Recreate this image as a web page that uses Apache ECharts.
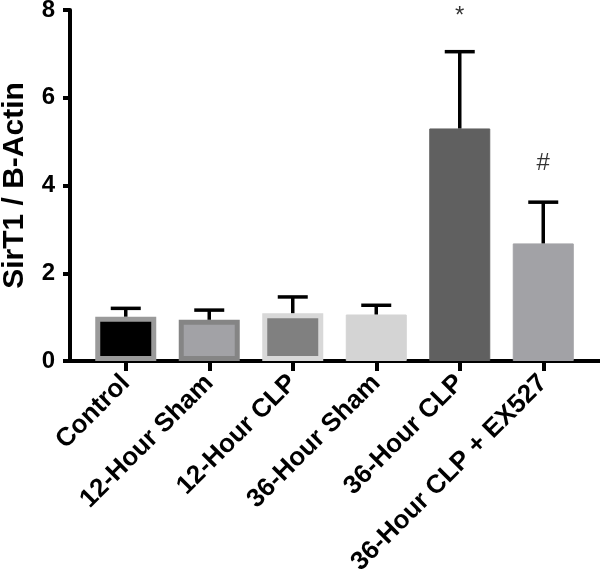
<!DOCTYPE html>
<html>
<head>
<meta charset="utf-8">
<script src="https://cdn.jsdelivr.net/npm/echarts@6/dist/echarts.min.js"></script>
<style>html,body{margin:0;padding:0;background:#fff}#c{width:600px;height:586px}</style>
</head>
<body>
<div id="c"></div>
<script>
var categories = ['Control', '12-Hour Sham', '12-Hour CLP', '36-Hour Sham', '36-Hour CLP', '36-Hour CLP + EX527'];
var means = [1.01, 0.94, 1.09, 1.06, 5.30, 2.68];
var errorTops = [1.20, 1.16, 1.46, 1.27, 7.05, 3.62];
var yTicks = [0, 2, 4, 6, 8];
var annotationCats = [4, 5];
var annotationY = [7.86, 4.5];
var annotationText = ['*', '#'];

var fills = ['#000000', '#a2a2a6', '#808080', '#d4d4d4', '#606060', '#a2a2a6'];
var borders = ['#9a9a9a', '#858585', '#d8d8d8', '#d4d4d4', '#606060', '#a2a2a6'];
var borderW = [5, 5, 5, 1, 1, 1];

var FONT = 'Liberation Sans, Arial, sans-serif';
var chart = echarts.init(document.getElementById('c'));

chart.setOption({
  animation: false,
  grid: [
    {left: 84, right: 15, top: 10, bottom: 225, containLabel: false, outerBoundsMode: 'none'},
    {left: 70, right: 0, top: 10, bottom: 225, containLabel: false, outerBoundsMode: 'none'}
  ],
  xAxis: [
    {
      type: 'category', gridIndex: 0, data: categories,
      axisLine: {show: false},
      axisTick: {show: true, alignWithLabel: true, length: 10, interval: 0, lineStyle: {color: '#000', width: 4}},
      axisLabel: {interval: 0, rotate: 45, margin: 18, color: '#000', fontFamily: FONT, fontWeight: 'bold', fontSize: 26}
    },
    {
      type: 'value', gridIndex: 1, min: 0, max: 1,
      axisLine: {show: true, lineStyle: {color: '#000', width: 4}},
      axisTick: {show: false}, axisLabel: {show: false}, splitLine: {show: false}
    }
  ],
  yAxis: [
    {
      type: 'value', gridIndex: 0, min: yTicks[0], max: yTicks[yTicks.length - 1], interval: 2, offset: 14,
      name: 'SirT1 / B-Actin', nameLocation: 'middle', nameGap: 40,
      nameTextStyle: {color: '#000', fontFamily: FONT, fontWeight: 'bold', fontSize: 30},
      axisLine: {show: true, lineStyle: {color: '#000', width: 4}},
      axisTick: {show: true, length: 7, lineStyle: {color: '#000', width: 4}},
      axisLabel: {margin: 15, color: '#000', fontFamily: FONT, fontWeight: 'bold', fontSize: 24},
      splitLine: {show: false}
    },
    {
      type: 'value', gridIndex: 1, min: 0, max: 1, show: false
    }
  ],
  series: [
    {
      type: 'bar', xAxisIndex: 0, yAxisIndex: 0, barWidth: 61,
      data: means.map(function (v, i) {
        return {value: v, itemStyle: {color: fills[i], borderColor: borders[i], borderWidth: borderW[i]}};
      }),
      z: 2
    },
    {
      type: 'custom', xAxisIndex: 0, yAxisIndex: 0, z: 3,
      data: means.map(function (v, i) { return [i, v, errorTops[i]]; }),
      renderItem: function (params, api) {
        var p0 = api.coord([api.value(0), api.value(1)]);
        var p1 = api.coord([api.value(0), api.value(2)]);
        var hw = 15;
        var st = {stroke: '#000', lineWidth: 3.5};
        return {
          type: 'group',
          children: [
            {type: 'line', shape: {x1: p0[0], y1: p0[1], x2: p1[0], y2: p1[1]}, style: st},
            {type: 'line', shape: {x1: p1[0] - hw, y1: p1[1], x2: p1[0] + hw, y2: p1[1]}, style: st}
          ]
        };
      }
    },
    {
      type: 'scatter', xAxisIndex: 0, yAxisIndex: 0, symbolSize: 0,
      data: annotationCats.map(function (c, i) { return [c, annotationY[i]]; }),
      label: {
        show: true, position: 'inside', color: '#000', fontFamily: FONT, fontSize: 24,
        formatter: function (p) { return annotationText[p.dataIndex]; }
      }
    }
  ]
});
</script>
</body>
</html>
